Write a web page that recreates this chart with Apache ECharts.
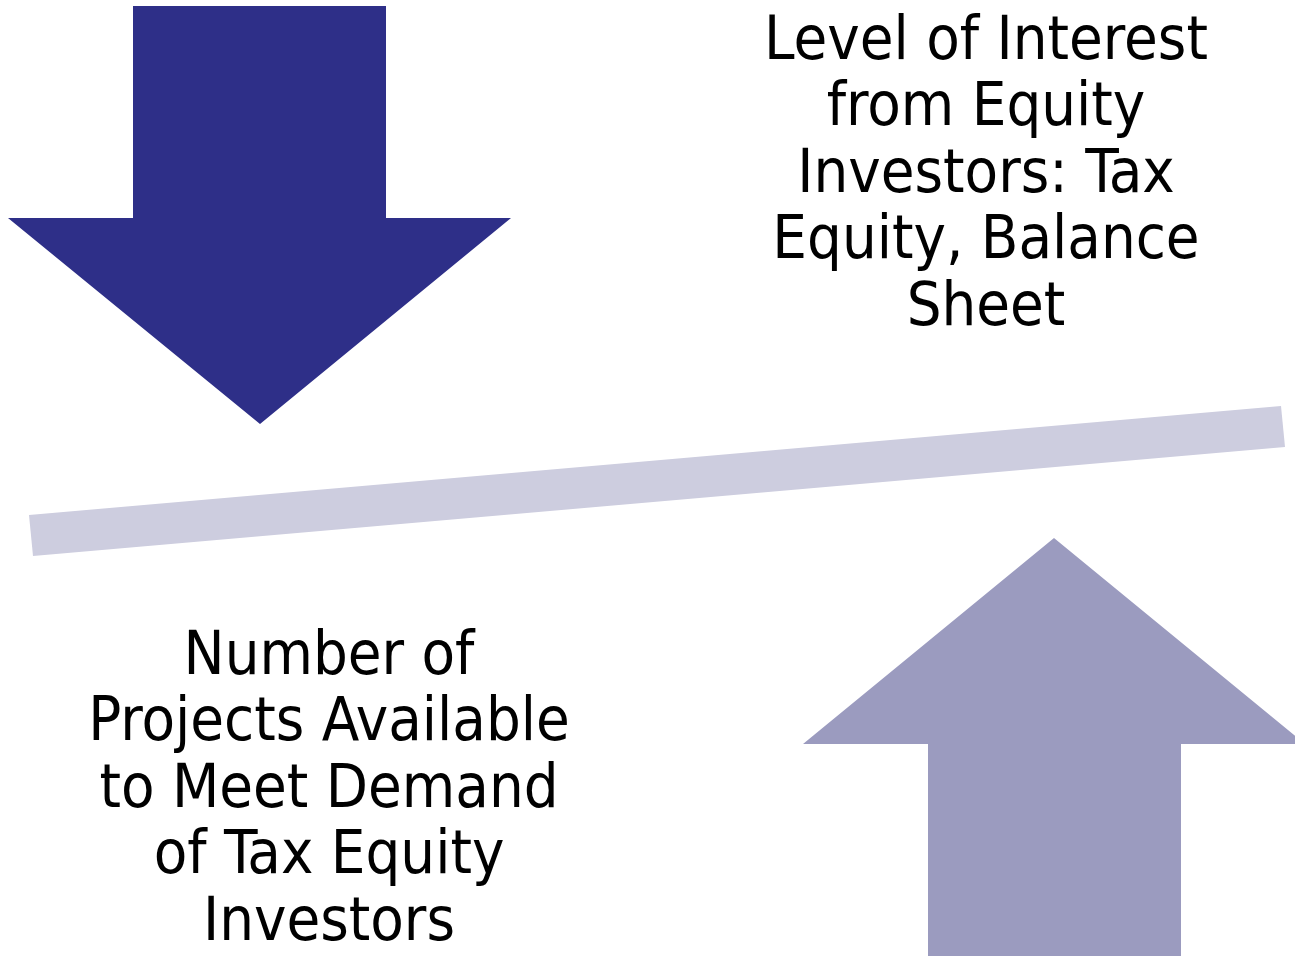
<!DOCTYPE html>
<html>
<head>
<meta charset="utf-8">
<script src="https://cdn.jsdelivr.net/npm/echarts@6/dist/echarts.min.js"></script>
<style>
html,body{margin:0;padding:0;background:#fff;}
#chart{width:1295px;height:956px;}
</style>
</head>
<body>
<div id="chart"></div>
<script>
// Diagram geometry (in canvas-like units of the hidden value axes)
const downArrow = [[133,6],[386,6],[386,218],[511,218],[260,424],[8,218],[133,218]];
const upArrow   = [[1054,538],[1305,744],[1181,744],[1181,960],[928,960],[928,744],[803,744]];
const beam      = [[29,515],[1281,406],[1285,447],[33,556]];
const topLines    = ['Level of Interest','from Equity','Investors: Tax','Equity, Balance','Sheet'];
const bottomLines = ['Number of','Projects Available','to Meet Demand','of Tax Equity','Investors'];
const textAnchors = [[986, 10], [329, 625]];

const shapes = [
  {name:'beam', pts: beam, color:'#CDCDDF'},
  {name:'down', pts: downArrow, color:'#2E2F88'},
  {name:'up', pts: upArrow, color:'#9B9BBF'}
];

const chart = echarts.init(document.getElementById('chart'), null, {renderer:'canvas'});
chart.setOption({
  animation:false,
  backgroundColor:'#ffffff',
  grid:{left:0,right:0,top:0,bottom:0},
  xAxis:{type:'value',min:0,max:1295,show:false},
  yAxis:{type:'value',min:0,max:956,inverse:true,show:false},
  series:[
    {
      type:'custom',
      clip:true,
      data: shapes.map((s,i)=>[i]),
      renderItem:function(params, api){
        const s = shapes[params.dataIndex];
        return {
          type:'polygon',
          shape:{points: s.pts.map(p=>api.coord(p))},
          style:{fill:s.color, stroke:null}
        };
      },
      silent:true
    },
    {
      type:'custom',
      data: textAnchors.map((a,i)=>[a[0],a[1],i]),
      renderItem:function(params, api){
        const i = params.dataIndex;
        const c = api.coord([api.value(0), api.value(1)]);
        const lines = i===0 ? topLines : bottomLines;
        return {
          type:'text',
          x:c[0], y:c[1],
          style:{
            text: lines.join('\n'),
            fill:'#000000',
            font:'61px "DejaVu Sans Condensed"',
            align:'center',
            verticalAlign:'top',
            lineHeight:66.4
          }
        };
      },
      silent:true
    }
  ]
});
</script>
</body>
</html>
